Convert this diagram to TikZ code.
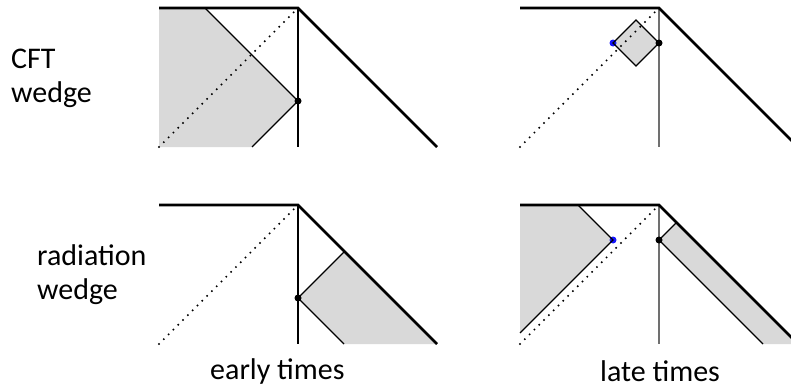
\documentclass[tikz,border=0pt]{standalone}
\usepackage{fontspec}
\setmainfont{Carlito}
\usetikzlibrary{positioning}
\definecolor{wedgegray}{RGB}{217,217,217}
\definecolor{axisgray}{RGB}{112,112,112}
\definecolor{dotblue}{RGB}{20,20,255}

\begin{document}
\begin{tikzpicture}[x=1pt,y=-1pt]
  \tikzstyle{horizon}=[line width=2.6pt,line join=miter]
  \tikzstyle{edgeline}=[line width=1.1pt]
  \tikzstyle{wedge}=[fill=wedgegray,draw=none]
  \tikzstyle{lightray}=[line width=2.2pt,line cap=round,dash pattern=on 0pt off 6.8pt]
  \tikzstyle{point}=[circle,fill=black,inner sep=0pt,minimum size=7pt]
  \tikzstyle{label}=[font=\fontsize{30}{34}\selectfont,inner sep=0pt]

  \useasboundingbox (0,0) rectangle (791,388);
  \clip (0,0) rectangle (791,388);

  % shaded wedges
  \fill[wedge] (159,8) -- (205,8) -- (298,101) -- (252,147) -- (159,147) -- cycle;
  \fill[wedge] (613,43) -- (636,20) -- (659,43) -- (636,66) -- cycle;
  \fill[wedge] (298,298) -- (344.5,251.5) -- (437,344) -- (344,344) -- cycle;
  \fill[wedge] (520,205) -- (578,205) -- (613,240) -- (520,333) -- cycle;
  \fill[wedge] (659,240) -- (676.5,222.5) -- (798,344) -- (763,344) -- cycle;

  % the four diagrams
  \foreach \p/\x/\y/\col in {1/159/8/black,2/520/8/axisgray,3/159/205/black,4/520/205/axisgray} {
    \coordinate (west\p) at (\x,\y);
    \coordinate (tip\p) at (\x+139,\y);
    \coordinate (foot\p) at (\x+139,\y+139);
    \coordinate (east\p) at (\x+278,\y+139);
    \coordinate (ray\p) at (\x,\y+139);
    \coordinate (rayend\p) at (\x+135,\y+4);
    \draw[edgeline,\col] (tip\p) -- (foot\p);
    \draw[horizon] (west\p) -- (tip\p) -- (east\p);
    \draw[lightray] (ray\p) -- (rayend\p);
  }

  \node[point]               (cft1)  at (298,101) {};
  \node[point,fill=dotblue]  (blue2) at (613,43)  {};
  \node[point]               (cft2)  at (659,43)  {};
  \node[point]               (rad3)  at (298,298) {};
  \node[point,fill=dotblue]  (blue4) at (613,240) {};
  \node[point]               (rad4)  at (659,240) {};

  \draw[edgeline] (205,8) -- (cft1.center) -- (252,147);
  \draw[edgeline] (blue2.center) -- (636,20) -- (cft2.center) -- (636,66) -- cycle;
  \draw[edgeline] (344.5,251.5) -- (rad3.center) -- (344,344);
  \draw[edgeline] (578,205) -- (blue4.center) -- (520,333);
  \draw[edgeline] (676.5,222.5) -- (rad4.center) -- (763,344);

  \node[label,anchor=base west,align=left] (cft)   at (11,102)  {CFT\\wedge};
  \node[label,anchor=base west,align=left] (rad)   at (37,299)  {radiation\\wedge};
  \node[label,anchor=base west]            (early) at (210,379) {early times};
  \node[label,anchor=base west]            (late)  at (600,381) {late times};
\end{tikzpicture}
\end{document}
